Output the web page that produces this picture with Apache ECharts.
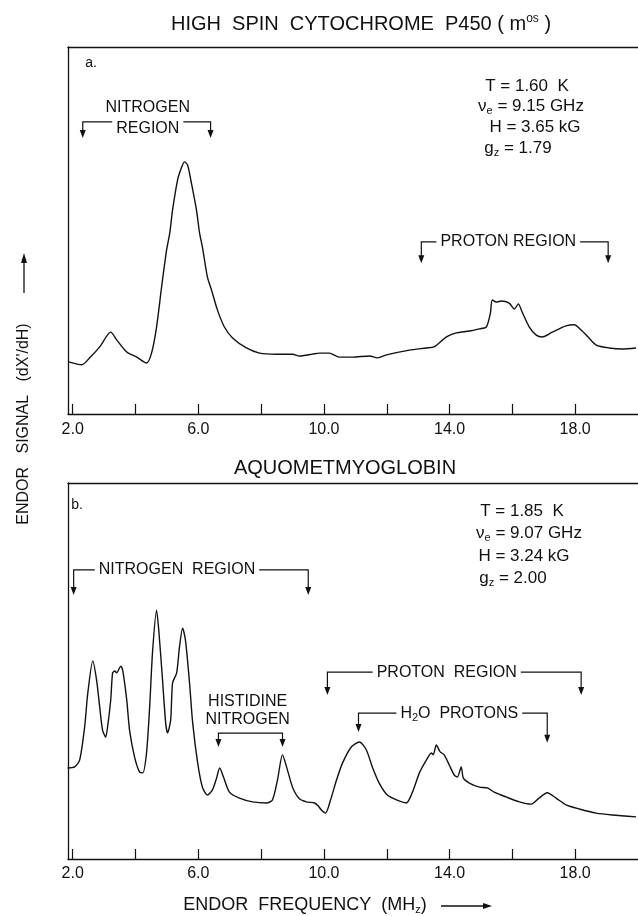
<!DOCTYPE html>
<html>
<head>
<meta charset="utf-8">
<script src="https://cdn.jsdelivr.net/npm/echarts@6/dist/echarts.min.js"></script>
<style>
html, body { margin: 0; padding: 0; background: #fff; }
#chart { width: 638px; height: 916px; }
</style>
</head>
<body>
<div id="chart"></div>
<script>
// (a) high spin cytochrome P450, ENDOR frequency (MHz) vs signal (arb.)
const freqA = [1.87, 2.29, 2.54, 2.86, 3.21, 3.40, 3.72, 4.04, 4.35, 4.51, 4.67, 4.83, 4.99, 5.09, 5.18, 5.34, 5.47, 5.56, 5.66, 5.78,
  5.94, 6.04, 6.13, 6.29, 6.42, 6.61, 6.83, 7.09, 7.53, 7.95, 8.49, 9.00, 9.22, 9.63, 9.86, 10.17, 10.49, 10.91, 11.45, 11.70,
  11.99, 12.72, 13.26, 13.51, 13.90, 14.21, 14.63, 14.95, 15.17, 15.30, 15.36, 15.49, 15.65, 15.90, 16.06, 16.19, 16.31, 16.54,
  16.76, 16.95, 17.27, 17.71, 17.97, 18.19, 18.44, 18.67, 19.08, 19.49, 19.94];
const signalA = [14.2, 13.4, 15.3, 18.3, 22.3, 20.2, 16.9, 15.5, 13.9, 16.6, 23.7, 34.6, 44.7, 49.3, 55.6, 63.8, 67.3, 68.7, 67.8, 62.9,
  55.6, 49.3, 45.5, 37.3, 33.8, 28.3, 23.7, 20.7, 18.0, 16.6, 16.3, 16.3, 15.8, 16.3, 16.6, 16.6, 15.5, 15.5, 15.8, 15.3,
  16.1, 17.4, 18.0, 18.3, 21.0, 22.1, 22.6, 23.2, 23.7, 27.5, 31.1, 30.5, 30.8, 30.2, 28.6, 30.0, 27.8, 23.7,
  21.5, 21.0, 22.3, 24.0, 24.3, 22.9, 20.7, 18.8, 18.0, 17.7, 18.0];

// (b) aquometmyoglobin
const freqB = [1.84, 2.06, 2.22, 2.38, 2.48, 2.64, 2.76, 2.86, 2.95, 3.05, 3.11, 3.21, 3.27, 3.34, 3.40, 3.53, 3.59, 3.72, 3.81, 3.97,
  4.13, 4.23, 4.35, 4.45, 4.54, 4.67, 4.74, 4.86, 4.96, 5.02, 5.12, 5.18, 5.31, 5.40, 5.50, 5.59, 5.72, 5.82, 5.98, 6.13,
  6.29, 6.45, 6.58, 6.68, 6.80, 6.99, 7.31, 7.73, 8.17, 8.36, 8.52, 8.68, 8.81, 9.00, 9.22, 9.44, 9.70, 9.82, 9.92, 10.05,
  10.21, 10.40, 10.59, 10.87, 11.13, 11.35, 11.54, 11.76, 12.02, 12.31, 12.62, 12.81, 13.04, 13.26, 13.42, 13.48, 13.58, 13.70, 13.83, 13.99,
  14.15, 14.25, 14.37, 14.44, 14.63, 14.95, 15.20, 15.42, 15.80, 16.22, 16.60, 16.85, 17.11, 17.39, 17.71, 18.13, 18.67, 19.18, 19.94];
const signalB = [24.2, 24.5, 26.3, 35.1, 44.1, 52.7, 47.6, 40.4, 34.3, 32.4, 35.1, 42.3, 49.5, 50.0, 49.5, 51.3, 50.3, 42.3, 34.3, 27.1,
  23.1, 22.9, 28.2, 40.4, 54.8, 66.2, 60.9, 47.6, 36.2, 33.5, 37.0, 46.8, 49.5, 56.4, 61.4, 58.2, 46.8, 36.2, 25.5, 19.1,
  17.0, 18.4, 21.5, 24.2, 21.8, 17.8, 16.2, 15.2, 14.9, 15.7, 21.0, 27.7, 24.5, 19.1, 16.0, 15.2, 14.9, 14.1, 13.0, 12.2,
  15.7, 21.0, 25.5, 29.8, 31.1, 29.0, 24.5, 20.2, 17.0, 15.7, 14.9, 17.6, 22.9, 26.3, 28.2, 27.7, 30.3, 28.5, 27.7, 25.0,
  22.3, 21.8, 24.5, 21.5, 20.2, 19.1, 18.9, 17.8, 16.5, 15.2, 14.6, 16.2, 17.6, 16.2, 14.4, 13.3, 12.2, 11.7, 11.2];

const tickValues = [2, 4, 6, 8, 10, 12, 14, 16, 18];
const labelValues = [2, 6, 10, 14, 18];

// region brackets, in axis units: [from MHz, to MHz, bar level, left tip level, right tip level]
const bracketsA = [
  [2.32, 6.39, 79.6, 75.2, 75.2],
  [13.10, 19.05, 46.9, 41.1, 41.1]
];
const bracketsB = [
  [2.03, 9.50, 76.9, 70.2, 70.2],
  [6.64, 8.68, 33.5, 29.8, 29.8],
  [10.11, 18.19, 49.7, 43.6, 43.6],
  [11.10, 17.11, 38.8, 33.8, 30.9]
];
// bracket texts: [MHz, level, text]
const notesA = [
  [4.39, 83.4, 'NITROGEN'],
  [4.39, 77.9, 'REGION'],
  [15.87, 46.9, 'PROTON REGION']
];
const notesB = [
  [5.32, 76.9, 'NITROGEN  REGION'],
  [7.57, 41.8, 'HISTIDINE'],
  [7.57, 37.0, 'NITROGEN'],
  [13.91, 49.7, 'PROTON  REGION'],
  [14.31, 38.8, 'H{sub|2}O  PROTONS']
];

const FONT = "'Liberation Sans', Arial, sans-serif";
const INK = '#111';

const chart = echarts.init(document.getElementById('chart'));

function bottomAxis(gi, margin) {
  return {
    type: 'value', gridIndex: gi, position: 'bottom', min: 1.85, max: 20,
    axisLine: { show: true, lineStyle: { color: INK, width: 1.3 } },
    axisTick: { show: true, inside: true, length: 10, customValues: tickValues, lineStyle: { color: INK, width: 1.2 } },
    axisLabel: { show: true, customValues: labelValues, margin: margin, color: INK, fontSize: 16, fontFamily: FONT,
      formatter: v => v.toFixed(1) },
    splitLine: { show: false }
  };
}
function topAxis(gi) {
  return {
    type: 'value', gridIndex: gi, position: 'top', min: 1.85, max: 20,
    axisLine: { show: true, lineStyle: { color: INK, width: 1.3 } },
    axisTick: { show: false }, axisLabel: { show: false }, splitLine: { show: false }
  };
}
function leftAxis(gi) {
  return {
    type: 'value', gridIndex: gi, min: 0, max: 100,
    axisLine: { show: true, lineStyle: { color: INK, width: 1.3 } },
    axisTick: { show: false }, axisLabel: { show: false }, splitLine: { show: false }
  };
}
function spectrum(gi, xs, ys) {
  return {
    type: 'line', xAxisIndex: gi * 2, yAxisIndex: gi,
    data: xs.map((x, i) => [x, ys[i]]),
    showSymbol: false, smooth: 0.25, silent: true,
    lineStyle: { color: INK, width: 1.4 }
  };
}

chart.setOption({
  animation: false,
  backgroundColor: '#fff',
  grid: [
    { left: 68, right: 0, top: 47, height: 367 },
    { left: 68, right: 0, top: 483, height: 376 }
  ],
  xAxis: [bottomAxis(0, 8), topAxis(0), bottomAxis(1, 7), topAxis(1)],
  yAxis: [leftAxis(0), leftAxis(1)],
  series: [spectrum(0, freqA, signalA), spectrum(1, freqB, signalB)]
});

// annotations placed through the axes
const subRich = {
  sub: { fontSize: 11, fontFamily: FONT, fill: INK, padding: [10, 0, 0, 0] },
  sup: { fontSize: 12, fontFamily: FONT, fill: INK, padding: [0, 0, 11, 0] }
};
function txt(x, y, text, size, extra) {
  return Object.assign({
    type: 'text', x: x, y: y, silent: true,
    style: Object.assign({ text: text, fontSize: size, fontFamily: FONT, fill: INK, align: 'center',
      verticalAlign: 'middle', rich: subRich }, (extra || {}).style || {})
  }, extra && extra.rotation !== undefined ? { rotation: extra.rotation } : {});
}
function arrowDown(x, y) {
  return { type: 'polygon', silent: true, shape: { points: [[x - 3, y - 8], [x + 3, y - 8], [x, y]] }, style: { fill: INK } };
}
function bracketGraphics(si, list) {
  const out = [];
  list.forEach(b => {
    const p1 = chart.convertToPixel({ seriesIndex: si }, [b[0], b[3]]);
    const q1 = chart.convertToPixel({ seriesIndex: si }, [b[0], b[2]]);
    const q2 = chart.convertToPixel({ seriesIndex: si }, [b[1], b[2]]);
    const p2 = chart.convertToPixel({ seriesIndex: si }, [b[1], b[4]]);
    out.push({ type: 'polyline', silent: true, shape: { points: [[p1[0], p1[1] - 6], q1, q2, [p2[0], p2[1] - 6]] },
      style: { stroke: INK, lineWidth: 1.2, fill: null } });
    out.push(arrowDown(p1[0], p1[1]));
    out.push(arrowDown(p2[0], p2[1]));
  });
  return out;
}
function noteGraphics(si, list, size) {
  return list.map(n => {
    const p = chart.convertToPixel({ seriesIndex: si }, [n[0], n[1]]);
    return txt(p[0], p[1], n[2], size, { style: { backgroundColor: '#fff', padding: [1, 4] } });
  });
}

const graphics = [].concat(
  bracketGraphics(0, bracketsA),
  bracketGraphics(1, bracketsB),
  noteGraphics(0, notesA, 16),
  noteGraphics(1, notesB, 16),
  [
    txt(361, 24, 'HIGH  SPIN  CYTOCHROME  P450 ( m{sup|os} )', 20),
    txt(345, 468, 'AQUOMETMYOGLOBIN', 20),
    txt(91, 63, 'a.', 14),
    txt(77, 505, 'b.', 14),
    // parameters, panel a
    txt(527, 86, 'T = 1.60  K', 17),
    txt(531, 106, 'ν{sub|e} = 9.15 GHz', 17),
    txt(535, 127, 'H = 3.65 kG', 17),
    txt(518, 148, 'g{sub|z} = 1.79', 17),
    // parameters, panel b
    txt(522, 511, 'T = 1.85  K', 17),
    txt(529, 533, 'ν{sub|e} = 9.07 GHz', 17),
    txt(524, 556, 'H = 3.24 kG', 17),
    txt(513, 578, 'g{sub|z} = 2.00', 17),
    // axis names
    txt(305, 905, 'ENDOR  FREQUENCY  (MH{sub|z})', 18),
    { type: 'line', silent: true, shape: { x1: 441, y1: 906, x2: 486, y2: 906 }, style: { stroke: INK, lineWidth: 1.3 } },
    { type: 'polygon', silent: true, shape: { points: [[483, 903], [483, 909], [492, 906]] }, style: { fill: INK } },
    txt(24, 424, "ENDOR   SIGNAL   (dX'/dH)", 16, { rotation: Math.PI / 2 }),
    { type: 'line', silent: true, shape: { x1: 24, y1: 293, x2: 24, y2: 260 }, style: { stroke: INK, lineWidth: 1.3 } },
    { type: 'polygon', silent: true, shape: { points: [[21, 263], [27, 263], [24, 253]] }, style: { fill: INK } }
  ]
);

chart.setOption({ graphic: graphics });
</script>
</body>
</html>
